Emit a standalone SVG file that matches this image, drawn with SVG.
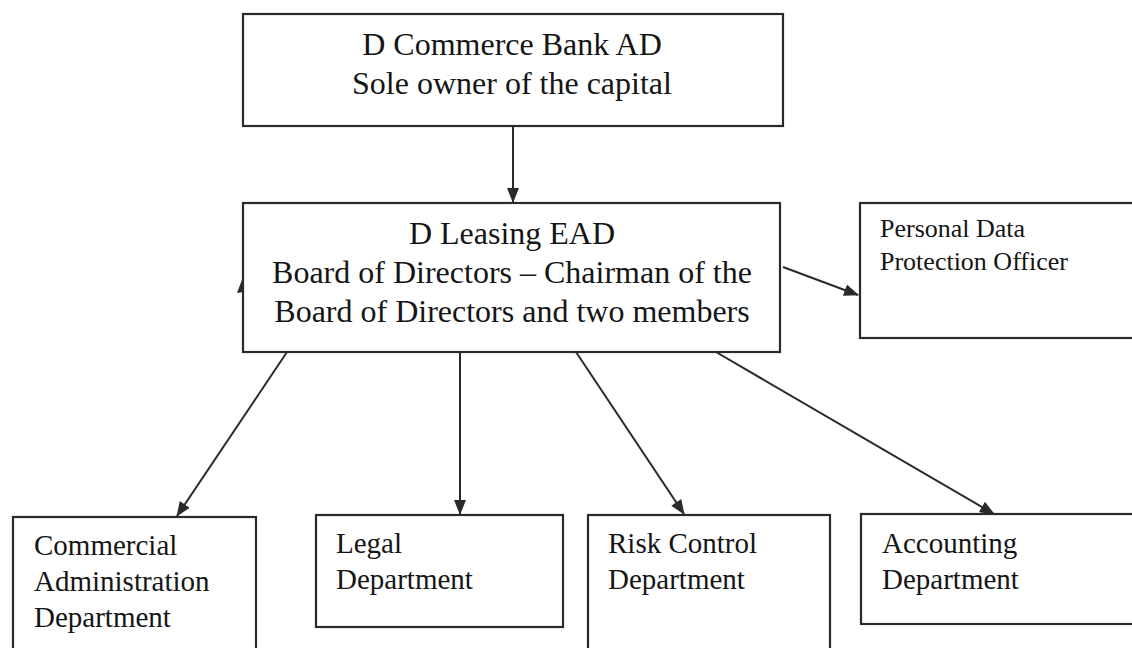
<svg xmlns="http://www.w3.org/2000/svg" width="1132" height="648" viewBox="0 0 1132 648">
<style>
.box{fill:#fff;stroke:#2a2a2a;stroke-width:2.2}
.big{font-family:"Liberation Serif","Times New Roman",serif;font-size:32px;fill:#151515}
.mid{font-family:"Liberation Serif","Times New Roman",serif;font-size:29px;fill:#151515}
.sm{font-family:"Liberation Serif","Times New Roman",serif;font-size:26px;fill:#151515}
.con{stroke:#2a2a2a;stroke-width:2;fill:none}
.head{fill:#2a2a2a}
</style>
<defs>
<marker id="arr" markerWidth="15" markerHeight="12" refX="14" refY="6" orient="auto" markerUnits="userSpaceOnUse">
<path d="M0,0 L15,6 L0,12 Z" class="head"/>
</marker>
</defs>
<rect width="1132" height="648" fill="#fff"/>
<g id="connectors">
<line class="con" x1="513" y1="126" x2="513" y2="202" marker-end="url(#arr)"/>
<line class="con" x1="783" y1="267" x2="858" y2="295" marker-end="url(#arr)"/>
<line class="con" x1="287" y1="352" x2="177" y2="516" marker-end="url(#arr)"/>
<line class="con" x1="460" y1="352" x2="460" y2="514" marker-end="url(#arr)"/>
<line class="con" x1="576" y1="352" x2="684" y2="514" marker-end="url(#arr)"/>
<line class="con" x1="716" y1="352" x2="994" y2="514" marker-end="url(#arr)"/>
<polygon class="head" points="243,277 237,293 250,291"/>
</g>
<g id="owner">
<rect class="box" x="243" y="14" width="540" height="112"/>
<text class="big" text-anchor="middle"><tspan x="512" y="55">D Commerce Bank AD</tspan><tspan x="512" y="94">Sole owner of the capital</tspan></text>
</g>
<g id="leasing">
<rect class="box" x="243" y="203" width="537" height="149"/>
<text class="big" text-anchor="middle"><tspan x="512" y="244">D Leasing EAD</tspan><tspan x="512" y="283">Board of Directors – Chairman of the</tspan><tspan x="512" y="322">Board of Directors and two members</tspan></text>
</g>
<g id="dpo">
<rect class="box" x="860" y="203" width="280" height="135"/>
<text class="sm"><tspan x="880" y="237">Personal Data</tspan><tspan x="880" y="270">Protection Officer</tspan></text>
</g>
<g id="commercial">
<rect class="box" x="13" y="517" width="243" height="140"/>
<text class="mid"><tspan x="34" y="555">Commercial</tspan><tspan x="34" y="591">Administration</tspan><tspan x="34" y="627">Department</tspan></text>
</g>
<g id="legal">
<rect class="box" x="316" y="515" width="247" height="112"/>
<text class="mid"><tspan x="336" y="553">Legal</tspan><tspan x="336" y="589">Department</tspan></text>
</g>
<g id="risk">
<rect class="box" x="588" y="515" width="242" height="140"/>
<text class="mid"><tspan x="608" y="553">Risk Control</tspan><tspan x="608" y="589">Department</tspan></text>
</g>
<g id="accounting">
<rect class="box" x="861" y="514" width="280" height="110"/>
<text class="mid"><tspan x="882" y="553">Accounting</tspan><tspan x="882" y="589">Department</tspan></text>
</g>
</svg>
